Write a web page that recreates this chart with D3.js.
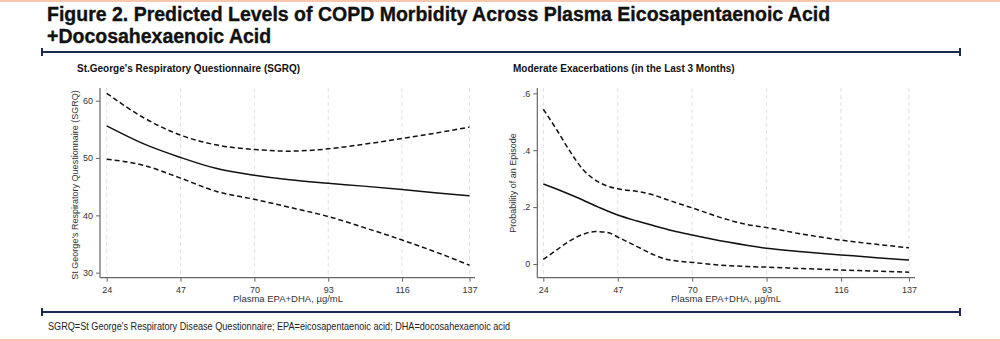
<!DOCTYPE html>
<html>
<head>
<meta charset="utf-8">
<script src="https://cdn.jsdelivr.net/npm/d3@7"></script>
<style>
  body { margin: 0; background: #fff; }
  svg { display: block; font-family: "Liberation Sans", Arial, sans-serif; }
</style>
</head>
<body>
<svg id="chart" width="1000" height="341"></svg>
<script>
// plasma EPA+DHA (µg/mL) tick values, shared by both panels
const xTicks = [24, 47, 70, 93, 116, 137];

// SGRQ panel: predicted score and 95% CI
const sgrqX     = [24, 35, 47, 58, 70, 81, 93, 104, 116, 127, 137];
const sgrqFit   = [55.6, 52.6, 50.1, 48.2, 47.0, 46.2, 45.6, 45.1, 44.5, 43.9, 43.4];
const sgrqUpper = [61.3, 57.2, 54.0, 52.3, 51.5, 51.2, 51.6, 52.4, 53.4, 54.4, 55.4];
const sgrqLower = [49.8, 48.8, 46.5, 44.2, 42.8, 41.4, 39.8, 37.9, 35.7, 33.5, 31.3];
const sgrqTicks = [30, 40, 50, 60];

// exacerbation panel: probability of an episode and 95% CI
const exFitX  = [24, 30, 35, 41, 47, 53, 58, 64, 70, 81, 93, 104, 116, 127, 137];
const exFit   = [0.281, 0.255, 0.231, 0.200, 0.172, 0.151, 0.135, 0.117, 0.102, 0.077, 0.055, 0.043, 0.032, 0.022, 0.014];
const exBandX = [24, 28.2, 32.3, 36.4, 40.1, 43.7, 47.8, 53, 58.2, 62.3, 66.5, 70.6, 78.9, 87.2, 93, 104, 116, 127, 137];
const exUpper = [0.544, 0.471, 0.395, 0.330, 0.295, 0.274, 0.263, 0.255, 0.242, 0.226, 0.210, 0.195, 0.163, 0.138, 0.128, 0.105, 0.084, 0.069, 0.057];
const exLower = [0.016, 0.050, 0.082, 0.105, 0.114, 0.111, 0.090, 0.061, 0.032, 0.016, 0.009, 0.005, -0.004, -0.009, -0.011, -0.016, -0.021, -0.025, -0.029];
const exTicks = [0, 0.2, 0.4, 0.6];

const svg = d3.select("#chart");
const navy = "#1b2a4e";

// peach edges of the page
svg.append("rect").attr("x", 0).attr("y", 0).attr("width", 1000).attr("height", 2).attr("fill", "#f8c8ae");
svg.append("rect").attr("x", 0).attr("y", 339).attr("width", 1000).attr("height", 2).attr("fill", "#f8c8ae");

// title
const title = svg.append("text")
  .attr("x", 47).attr("y", 21)
  .style("font-weight", "bold")
  .style("font-size", "19.5px")
  .attr("fill", "#111").attr("stroke", "#111").attr("stroke-width", 0.35);
title.append("tspan").attr("x", 47).attr("y", 21)
  .text("Figure 2. Predicted Levels of COPD Morbidity Across Plasma Eicosapentaenoic Acid");
title.append("tspan").attr("x", 47).attr("y", 43)
  .text("+Docosahexaenoic Acid");

// horizontal rules with end caps
function rule(y) {
  svg.append("line").attr("x1", 42).attr("x2", 960).attr("y1", y).attr("y2", y)
    .attr("stroke", navy).attr("stroke-width", 2);
  [42, 960].forEach(x => {
    svg.append("line").attr("x1", x).attr("x2", x).attr("y1", y - 4).attr("y2", y + 4)
      .attr("stroke", navy).attr("stroke-width", 2);
  });
}
rule(52);
rule(312);

svg.append("text")
  .attr("x", 48).attr("y", 330)
  .style("font-size", "10.5px")
  .attr("fill", "#222")
  .attr("textLength", 462).attr("lengthAdjust", "spacingAndGlyphs")
  .text("SGRQ=St George's Respiratory Disease Questionnaire; EPA=eicosapentaenoic acid; DHA=docosahexaenoic acid");

function panel(opt) {
  const g = svg.append("g");
  const x = d3.scaleLinear().domain([24, 137]).range([opt.x0, opt.x1]);
  const y = d3.scaleLinear().domain(opt.yDomain).range(opt.yRange);

  g.append("text")
    .attr("x", opt.subX).attr("y", 72)
    .style("font-weight", "bold").style("font-size", "10px")
    .attr("fill", "#111")
    .text(opt.subtitle);

  // dashed vertical grid
  g.selectAll(".grid").data(xTicks).join("line")
    .attr("x1", d => x(d)).attr("x2", d => x(d))
    .attr("y1", 88).attr("y2", opt.axisY)
    .attr("stroke", "#e2e2e2").attr("stroke-width", 1)
    .attr("stroke-dasharray", "4,3");

  const xAxis = g.append("g")
    .attr("transform", `translate(0,${opt.axisY})`)
    .call(d3.axisBottom(x).tickValues(xTicks).tickSize(4).tickSizeOuter(0));
  xAxis.select(".domain").attr("d", `M${opt.axisX},0H${opt.axisEnd}`);

  const yAxis = g.append("g")
    .attr("transform", `translate(${opt.axisX},0)`)
    .call(d3.axisLeft(y).tickValues(opt.yTicks).tickFormat(opt.fmt).tickSize(4).tickSizeOuter(0));
  yAxis.select(".domain").attr("d", `M0,88V${opt.axisY}`);

  [xAxis, yAxis].forEach(a => {
    a.select(".domain").attr("stroke", "#666").attr("stroke-width", 1.2);
    a.selectAll(".tick line").attr("stroke", "#666");
    a.selectAll(".tick text").attr("fill", "#333").style("font-size", "9px")
      .style("font-family", "'Liberation Sans', Arial, sans-serif");
  });
  xAxis.selectAll(".tick text").attr("dy", "0.9em");

  g.append("text")
    .attr("x", opt.xTitleX).attr("y", 302)
    .attr("text-anchor", "middle")
    .style("font-size", "9.5px").attr("fill", "#333")
    .text("Plasma EPA+DHA, µg/mL");

  g.append("text")
    .attr("transform", `translate(${opt.yTitleX},${opt.yTitleY}) rotate(-90)`)
    .attr("text-anchor", "middle")
    .style("font-size", "9px").attr("fill", "#333")
    .text(opt.yTitle);

  const line = (xs, vals) => d3.line()
    .x((d, i) => x(xs[i]))
    .y(d => y(d))
    .curve(d3.curveMonotoneX)(vals);

  g.append("path").attr("d", line(opt.bandX, opt.upper))
    .attr("fill", "none").attr("stroke", "#111").attr("stroke-width", 1.5).attr("stroke-dasharray", "5,3");
  g.append("path").attr("d", line(opt.bandX, opt.lower))
    .attr("fill", "none").attr("stroke", "#111").attr("stroke-width", 1.5).attr("stroke-dasharray", "5,3");
  g.append("path").attr("d", line(opt.fitX, opt.fit))
    .attr("fill", "none").attr("stroke", "#111").attr("stroke-width", 1.5);
}

panel({
  subtitle: "St.George's Respiratory Questionnaire (SGRQ)", subX: 77,
  x0: 106.7, x1: 469.5, axisX: 100, axisEnd: 475, axisY: 277.7,
  yDomain: [30, 60], yRange: [272.7, 100.7], yTicks: sgrqTicks, fmt: d3.format("d"),
  fitX: sgrqX, bandX: sgrqX, fit: sgrqFit, upper: sgrqUpper, lower: sgrqLower,
  xTitleX: 288, yTitleX: 78, yTitleY: 185,
  yTitle: "St George's Respiratory Questionnaire (SGRQ)"
});

panel({
  subtitle: "Moderate Exacerbations (in the Last 3 Months)", subX: 513,
  x0: 543.3, x1: 909, axisX: 537.3, axisEnd: 915, axisY: 277.7,
  yDomain: [0, 0.6], yRange: [264, 93.3], yTicks: exTicks, fmt: d => d === 0 ? "0" : d3.format(".1f")(d).replace(/^0/, ""),
  fitX: exFitX, bandX: exBandX, fit: exFit, upper: exUpper, lower: exLower,
  xTitleX: 726, yTitleX: 516, yTitleY: 183,
  yTitle: "Probability of an Episode"
});
</script>
</body>
</html>
